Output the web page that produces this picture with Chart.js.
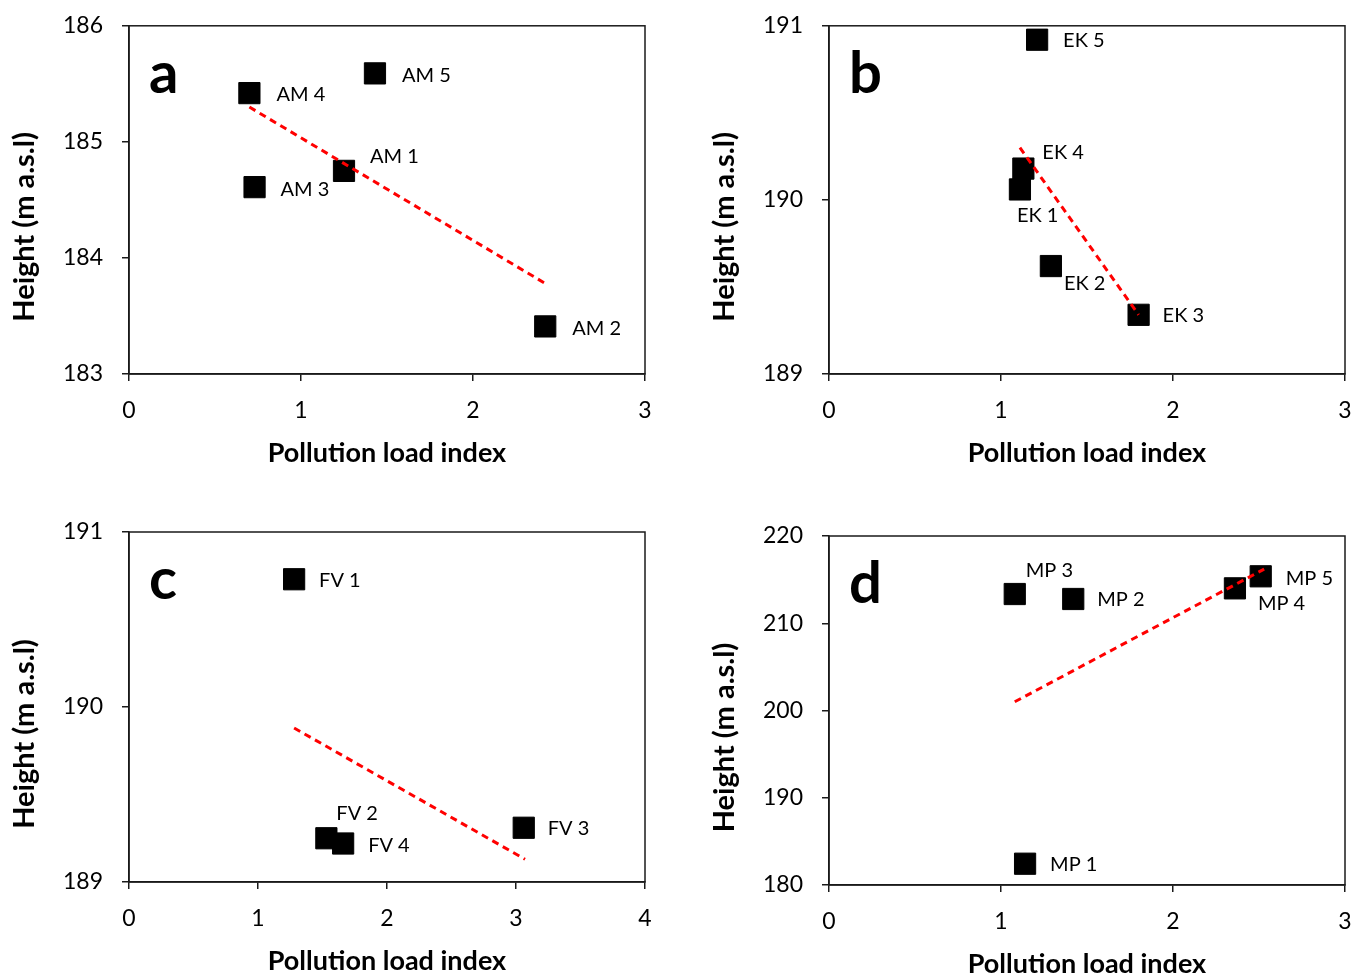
<!DOCTYPE html>
<html>
<head>
<meta charset="utf-8">
<script src="https://cdn.jsdelivr.net/npm/chart.js@4.4.0/dist/chart.umd.min.js"></script>
<style>
  html, body { margin: 0; padding: 0; background: #fff; overflow: hidden; }
  #wrap { position: relative; width: 1353px; height: 974px; overflow: hidden; }
  .panel { position: absolute; }
</style>
</head>
<body>
<div id="wrap">
  <div class="panel" style="left:0;top:-7px"><canvas id="chartA" width="676" height="487"></canvas></div>
  <div class="panel" style="left:700px;top:-7px"><canvas id="chartB" width="669" height="487"></canvas></div>
  <div class="panel" style="left:0;top:487px"><canvas id="chartC" width="676" height="487"></canvas></div>
  <div class="panel" style="left:700px;top:487px"><canvas id="chartD" width="669" height="487"></canvas></div>
</div>
<script>
// site data: pollution load index vs. height above sea level
const amNames = ['AM 1', 'AM 2', 'AM 3', 'AM 4', 'AM 5'];
const amPli = [1.25, 2.42, 0.73, 0.70, 1.43];
const amHeight = [184.75, 183.41, 184.61, 185.42, 185.59];
const amTrendX = [0.70, 2.42];
const amTrendY = [185.30, 183.78];

const ekNames = ['EK 1', 'EK 2', 'EK 3', 'EK 4', 'EK 5'];
const ekPli = [1.11, 1.29, 1.80, 1.13, 1.21];
const ekHeight = [190.06, 189.62, 189.34, 190.18, 190.92];
const ekTrendX = [1.11, 1.80];
const ekTrendY = [190.30, 189.34];

const fvNames = ['FV 1', 'FV 2', 'FV 3', 'FV 4'];
const fvPli = [1.28, 1.53, 3.06, 1.66];
const fvHeight = [190.73, 189.25, 189.31, 189.22];
const fvTrendX = [1.28, 3.07];
const fvTrendY = [189.88, 189.13];

const mpNames = ['MP 1', 'MP 2', 'MP 3', 'MP 4', 'MP 5'];
const mpPli = [1.14, 1.42, 1.08, 2.36, 2.51];
const mpHeight = [182.44, 212.78, 213.35, 214.00, 215.38];
const mpTrendX = [1.08, 2.53];
const mpTrendY = [201.0, 216.2];

const xTitle = 'Pollution load index';
const yTitle = 'Height (m a.s.l)';

const FONT = 'Lato, "Open Sans", sans-serif';
const INK = '#1a1a1a';

// where each point label sits relative to its marker
const offsetsA = [[26, -14], [27, 2], [26, 2], [27, 1], [27, 2]];
const offsetsB = [[-3, 26], [13, 17], [24, 1], [19, -16], [26, 1]];
const offsetsC = [[25, 1], [10, -25], [24, 1], [25, 2]];
const offsetsD = [[25, 1], [24, 1], [11, -23], [23, 15], [25, 2]];

// frame, panel letter, point labels and axis titles
const decorations = {
  id: 'decorations',
  beforeDatasetsDraw(chart) {
    const { ctx, chartArea: a } = chart;
    ctx.save();
    ctx.strokeStyle = INK;
    ctx.lineWidth = 1.5;
    ctx.strokeRect(a.left, a.top, a.right - a.left, a.bottom - a.top);
    ctx.restore();
  },
  afterDraw(chart, args, opts) {
    const { ctx, chartArea: a } = chart;
    ctx.save();
    ctx.fillStyle = '#000';

    ctx.font = 'bold 58px ' + FONT;
    ctx.textAlign = 'left';
    ctx.textBaseline = 'alphabetic';
    ctx.fillText(opts.letter, a.left + 20, a.top + 67);

    ctx.font = '20px ' + FONT;
    ctx.textBaseline = 'middle';
    const meta = chart.getDatasetMeta(1);
    meta.data.forEach((pt, i) => {
      const [dx, dy] = opts.offsets[i];
      ctx.fillText(opts.names[i], pt.x + dx, pt.y + dy);
    });

    ctx.font = 'bold 27px ' + FONT;
    ctx.textAlign = 'center';
    ctx.fillText(xTitle, (a.left + a.right) / 2, a.bottom + 79);

    ctx.font = 'bold 29px ' + FONT;
    ctx.translate(a.left - 104, (a.top + a.bottom) / 2 + 27);
    ctx.rotate(-Math.PI / 2);
    ctx.fillText(yTitle, 0, 0);
    ctx.restore();
  }
};

function makePanel(canvasId, cfg) {
  const points = cfg.pli.map((x, i) => ({ x: x, y: cfg.height[i] }));
  const trend = cfg.trendX.map((x, i) => ({ x: x, y: cfg.trendY[i] }));
  const tickFont = { family: FONT, size: 23 };
  return new Chart(document.getElementById(canvasId), {
    type: 'scatter',
    data: {
      datasets: [
        {
          data: trend,
          showLine: true,
          borderColor: '#ff0000',
          borderWidth: 3,
          borderDash: [7, 5],
          pointRadius: 0,
          order: 0
        },
        {
          data: points,
          pointStyle: 'rect',
          pointRadius: 15,
          backgroundColor: '#000',
          borderColor: '#000',
          borderWidth: 1,
          order: 1
        }
      ]
    },
    options: {
      responsive: false,
      animation: false,
      devicePixelRatio: 1,
      layout: { padding: { top: cfg.padTop, right: cfg.padRight, bottom: 0, left: 0 } },
      plugins: {
        legend: { display: false },
        tooltip: { enabled: false },
        decorations: { letter: cfg.letter, names: cfg.names, offsets: cfg.offsets }
      },
      scales: {
        x: {
          type: 'linear',
          min: 0,
          max: cfg.xMax,
          afterFit: (s) => { s.height = cfg.xAxisH; },
          ticks: { stepSize: 1, padding: 16, color: '#000', font: tickFont, maxRotation: 0 },
          grid: { drawOnChartArea: false, tickLength: 7, color: INK, lineWidth: 1.5 },
          border: { color: INK, width: 1.5 }
        },
        y: {
          type: 'linear',
          min: cfg.yMin,
          max: cfg.yMax,
          afterFit: (s) => { s.width = 129; },
          ticks: { stepSize: cfg.yStep, padding: 19, color: '#000', font: tickFont },
          grid: { drawOnChartArea: false, tickLength: 7, color: INK, lineWidth: 1.5 },
          border: { color: INK, width: 1.5 }
        }
      }
    },
    plugins: [decorations]
  });
}

makePanel('chartA', {
  letter: 'a', names: amNames, pli: amPli, height: amHeight,
  trendX: amTrendX, trendY: amTrendY, offsets: offsetsA,
  xMax: 3, yMin: 183, yMax: 186, yStep: 1,
  padTop: 32, padRight: 31, xAxisH: 106
});

makePanel('chartB', {
  letter: 'b', names: ekNames, pli: ekPli, height: ekHeight,
  trendX: ekTrendX, trendY: ekTrendY, offsets: offsetsB,
  xMax: 3, yMin: 189, yMax: 191, yStep: 1,
  padTop: 32, padRight: 24, xAxisH: 106
});

makePanel('chartC', {
  letter: 'c', names: fvNames, pli: fvPli, height: fvHeight,
  trendX: fvTrendX, trendY: fvTrendY, offsets: offsetsC,
  xMax: 4, yMin: 189, yMax: 191, yStep: 1,
  padTop: 45, padRight: 31, xAxisH: 92
});

makePanel('chartD', {
  letter: 'd', names: mpNames, pli: mpPli, height: mpHeight,
  trendX: mpTrendX, trendY: mpTrendY, offsets: offsetsD,
  xMax: 3, yMin: 180, yMax: 220, yStep: 10,
  padTop: 49, padRight: 24, xAxisH: 89
});
</script>
</body>
</html>
